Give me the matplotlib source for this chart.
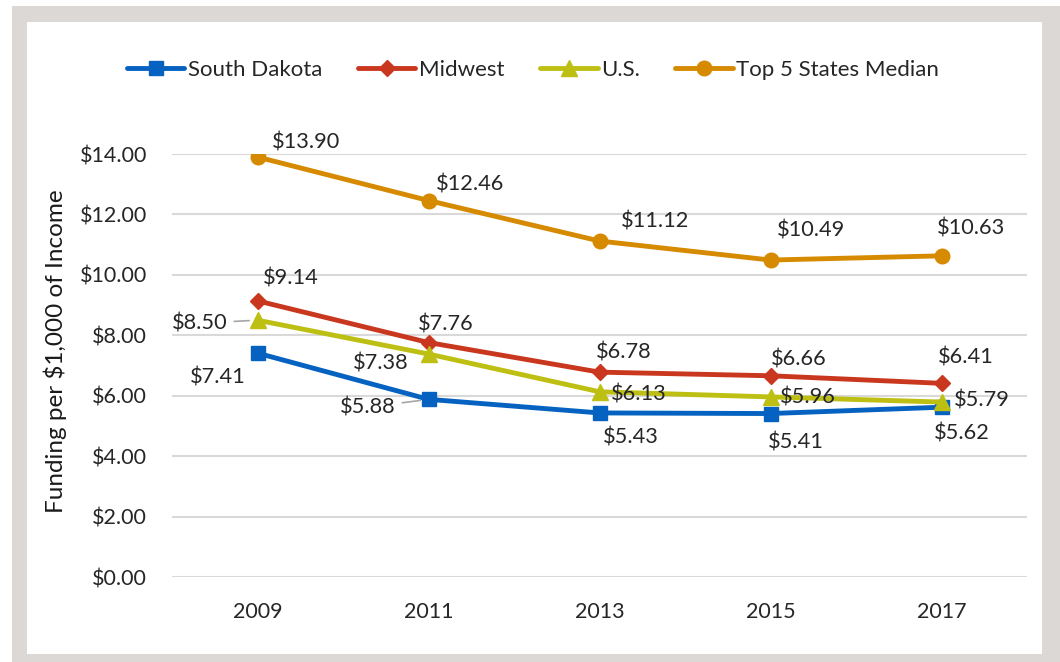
import matplotlib.pyplot as plt
from matplotlib.patches import Rectangle

plt.rcParams['font.family'] = ['Lato', 'DejaVu Sans']

# data
years = ['2009', '2011', '2013', '2015', '2017']
south_dakota = [7.41, 5.88, 5.43, 5.41, 5.62]
midwest = [9.14, 7.76, 6.78, 6.66, 6.41]
us = [8.50, 7.38, 6.13, 5.96, 5.79]
top5_median = [13.90, 12.46, 11.12, 10.49, 10.63]
yticks = [0, 2, 4, 6, 8, 10, 12, 14]

series = [
    ('South Dakota', south_dakota, '#0562c0', 's', 10),
    ('Midwest', midwest, '#c9381e', 'D', 8.5),
    ('U.S.', us, '#bdc012', '^', 11),
    ('Top 5 States Median', top5_median, '#d68a00', 'o', 10.5),
]

# label offsets in pixels, one list per series (leader = draw a connector)
label_offsets = {
    'South Dakota': [(-40, -24, 0), (-61, -8, 1), (31, -25, 0), (25, -29, 0), (20, -26, 0)],
    'Midwest': [(33, 22, 0), (17, 18, 0), (24, 20, 0), (28, 16, 0), (24, 26, 0)],
    'U.S.': [(-58, -3, 1), (-48, -9, 0), (39, -3, 0), (37, -1, 0), (40, 2, 0)],
    'Top 5 States Median': [(49, 15, 0), (42, 16, 0), (56, 20, 0), (41, 30, 0), (30, 27, 0)],
}

fig = plt.figure(figsize=(10.6, 6.62), dpi=100)

# grey border around the chart
W, H = 1060, 662
fig.patches.append(Rectangle((12 / W, 0), 1 - 12 / W, 1 - 6 / H, transform=fig.transFigure,
                             facecolor='#dbd8d5', edgecolor='none', zorder=0))
fig.patches.append(Rectangle((27 / W, 8 / H), (1042 - 27) / W, (654 - 22) / H,
                             transform=fig.transFigure, facecolor='white',
                             edgecolor='none', zorder=0))

ax = fig.add_axes([172 / W, 1 - 577 / H, 855 / W, (577 - 154) / H])
ax.set_zorder(2)
ax.set_facecolor('none')
x = list(range(len(years)))

for name, vals, color, marker, ms in series:
    ax.plot(x, vals, color=color, lw=3.5, marker=marker, ms=ms, label=name,
            solid_capstyle='round', zorder=3)
    for i, v in enumerate(vals):
        dx, dy, leader = label_offsets[name][i]
        kw = {}
        if leader:
            kw['arrowprops'] = dict(arrowstyle='-', color='#a6a6a6', lw=1.2,
                                    shrinkA=3, shrinkB=6)
        ax.annotate(f'${v:.2f}', (i, v), xytext=(dx, dy), textcoords='offset pixels',
                    ha='center', va='center', fontsize=15.7, color='#262626',
                    zorder=4, **kw)

ax.set_xlim(-0.5, len(years) - 0.5)
ax.set_ylim(0, 14)
ax.set_xticks(x)
ax.set_xticklabels(years)
ax.set_yticks(yticks)
ax.set_yticklabels([f'${t:.2f}' for t in yticks])
ax.tick_params(length=0, labelsize=15.5, labelcolor='#262626')
ax.tick_params(axis='x', pad=18)
ax.tick_params(axis='y', pad=18)
ax.yaxis.grid(True, color='#d9d9d9', lw=1.5)
ax.set_axisbelow(True)
for s in ax.spines.values():
    s.set_visible(False)
ax.set_ylabel('Funding per $1,000 of Income', fontsize=17.5, color='#1a1a1a')
ax.yaxis.set_label_coords(-0.123, 0.534)

leg = fig.legend(loc='center', bbox_to_anchor=(533 / W, 1 - 70 / H), ncol=4, frameon=False,
                 fontsize=16, handlelength=2.6, handletextpad=0.15, columnspacing=1.6,
                 labelcolor='#262626')
leg.set_zorder(3)

fig.savefig('out.png', dpi=100)
